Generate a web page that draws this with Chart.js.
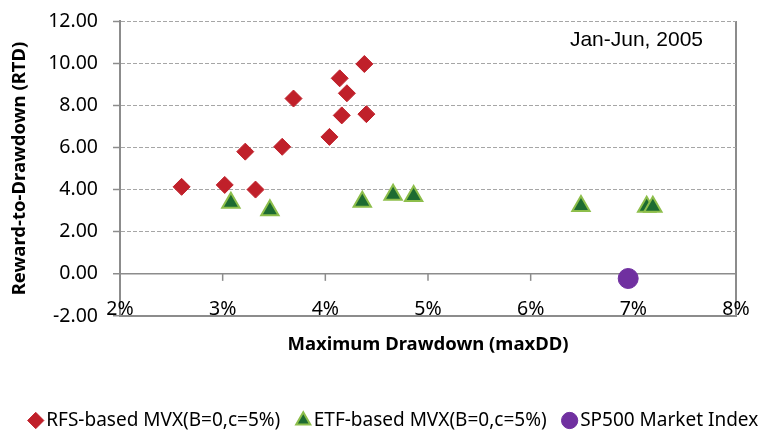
<html>
<head>
    <script src="https://cdn.jsdelivr.net/npm/chart.js"></script>
    <style>
        body { margin: 0; overflow: hidden; background: #fff; }
        #wrap { width: 793px; height: 433px; }
    </style>
</head>
<body>
    <div id="wrap">
        <canvas id="myChart"></canvas>
    </div>
    <script>
        // 데이터 (maxDD %, RTD)
        const rfsX = [2.60, 3.02, 3.22, 3.32, 3.58, 3.69, 4.04, 4.14, 4.21, 4.16, 4.38, 4.40];
        const rfsY = [4.13, 4.22, 5.80, 4.00, 6.03, 8.32, 6.50, 9.28, 8.57, 7.52, 9.96, 7.58];
        const etfX = [3.08, 3.46, 4.36, 4.66, 4.86, 6.49, 7.13, 7.19];
        const etfY = [3.38, 3.02, 3.42, 3.76, 3.70, 3.22, 3.18, 3.18];
        const spX = [6.95];
        const spY = [-0.22];
        const seriesNames = ['RFS-based MVX(B=0,c=5%)', 'ETF-based MVX(B=0,c=5%)', 'SP500 Market Index'];
        const periodLabel = 'Jan-Jun, 2005';

        const toPoints = (xs, ys) => xs.map((x, i) => ({ x: x, y: ys[i] }));

        const axisGray = '#8c8c8c';
        const tickFont = '19.5px "Noto Sans"';

        // 0선 아래 작은 눈금, x축 라벨(아래 테두리 위), 기간 표시
        const extras = {
            id: 'extras',
            beforeDatasetsDraw(chart) {
                const { ctx, scales: { x, y } } = chart;
                const y0 = y.getPixelForValue(0);
                ctx.save();
                ctx.strokeStyle = axisGray;
                ctx.lineWidth = 1.5;
                x.ticks.forEach(t => {
                    const px = x.getPixelForValue(t.value);
                    ctx.beginPath();
                    ctx.moveTo(px, y0);
                    ctx.lineTo(px, y0 + 7);
                    ctx.stroke();
                });
                ctx.restore();
            },
            afterDraw(chart) {
                const { ctx, chartArea, scales: { x } } = chart;
                ctx.save();
                ctx.fillStyle = '#000';
                ctx.font = tickFont;
                ctx.textAlign = 'center';
                ctx.textBaseline = 'middle';
                x.ticks.forEach(t => {
                    ctx.fillText(t.label, x.getPixelForValue(t.value), chartArea.bottom - 6.5);
                });
                ctx.font = '21px "Liberation Sans", Arial, sans-serif';
                ctx.textAlign = 'right';
                ctx.textBaseline = 'alphabetic';
                ctx.fillText(periodLabel, chartArea.right - 33, chartArea.top + 25);
                ctx.restore();
            }
        };

        new Chart(document.getElementById('myChart'), {
            type: 'scatter',
            data: {
                datasets: [{
                    label: seriesNames[0],
                    data: toPoints(rfsX, rfsY),
                    pointStyle: 'rectRot',
                    pointRadius: 8.5,
                    backgroundColor: '#c0202a',
                    borderColor: '#c0202a',
                    borderWidth: 1
                }, {
                    label: seriesNames[1],
                    data: toPoints(etfX, etfY),
                    pointStyle: 'triangle',
                    pointRadius: 10,
                    backgroundColor: '#1d6b31',
                    borderColor: '#8dbe4b',
                    borderWidth: 2
                }, {
                    label: seriesNames[2],
                    data: toPoints(spX, spY),
                    pointStyle: 'circle',
                    pointRadius: 10,
                    backgroundColor: '#7030a0',
                    borderColor: '#7030a0',
                    borderWidth: 1
                }]
            },
            options: {
                responsive: true,
                maintainAspectRatio: false,
                animation: false,
                layout: { padding: { top: 21, right: 0, left: 0, bottom: 0 } },
                plugins: {
                    tooltip: { enabled: false },
                    legend: {
                        position: 'bottom',
                        maxHeight: 44,
                        labels: {
                            usePointStyle: true,
                            boxWidth: 2,
                            boxHeight: 11.5,
                            padding: 22,
                            color: '#000',
                            font: { family: '"Noto Sans"', size: 19 }
                        }
                    }
                },
                scales: {
                    x: {
                        type: 'linear',
                        min: 2,
                        max: 8,
                        ticks: {
                            display: false,
                            stepSize: 1,
                            callback: v => v + '%'
                        },
                        grid: {
                            drawTicks: false,
                            lineWidth: 2,
                            color: c => (c.tick && c.tick.value === 8) ? axisGray : 'rgba(0,0,0,0)'
                        },
                        border: { display: true, color: axisGray, width: 2 },
                        title: {
                            display: true,
                            text: 'Maximum Drawdown (maxDD)',
                            color: '#000',
                            font: { family: '"Noto Sans"', size: 18.5, weight: 'bold' },
                            padding: { top: 17.9, bottom: 32.9 }
                        }
                    },
                    y: {
                        min: -2,
                        max: 12,
                        afterFit: s => {
                            s.width = 120;
                            s.paddingTop = 0;
                            s.paddingBottom = 0;
                        },
                        ticks: {
                            stepSize: 2,
                            padding: 15,
                            color: '#000',
                            font: { family: '"Noto Sans"', size: 19.5 },
                            callback: v => v.toFixed(2)
                        },
                        grid: {
                            tickLength: 7,
                            tickColor: axisGray,
                            tickWidth: 1.5,
                            color: c => (c.tick && c.tick.value <= 0) ? axisGray : '#a6a6a6',
                            lineWidth: c => (c.tick && c.tick.value <= 0) ? 1.5 : 1
                        },
                        border: {
                            display: true,
                            color: axisGray,
                            width: 2,
                            dash: c => (c.tick && c.tick.value > 0) ? [4, 2] : []
                        },
                        title: {
                            display: true,
                            text: 'Reward-to-Drawdown (RTD)',
                            color: '#000',
                            font: { family: '"Noto Sans"', size: 18.5, weight: 'bold' },
                            padding: { top: 9, bottom: 0 }
                        }
                    },
                    // 오른쪽 여백용 빈 축 (범례는 전체 폭 사용)
                    y2: {
                        type: 'linear',
                        position: 'right',
                        afterFit: s => {
                            s.width = 57;
                            s.paddingTop = 0;
                            s.paddingBottom = 0;
                        },
                        ticks: { display: false },
                        grid: { display: false, drawTicks: false },
                        border: { display: false }
                    }
                }
            },
            plugins: [extras]
        });
    </script>
</body>
</html>
